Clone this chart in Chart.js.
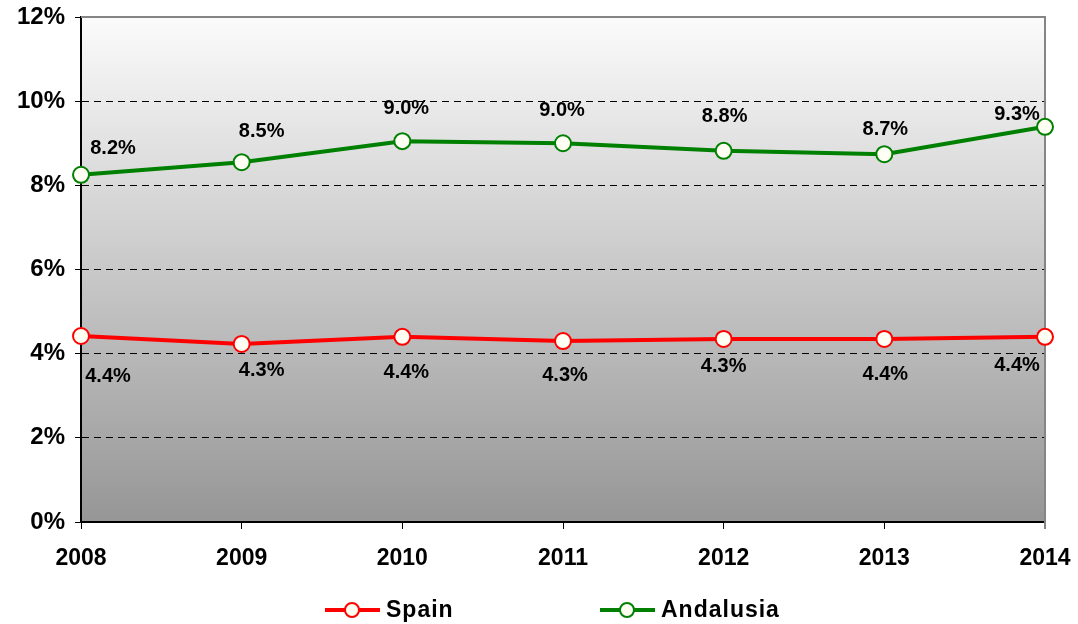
<!DOCTYPE html>
<html>
<head>
	<meta charset="utf-8">
	<title>Spain / Andalusia</title>
	<script src="https://cdn.jsdelivr.net/npm/chart.js"></script>
	<style>
		body { margin: 0; background: #ffffff; }
		#wrap { width: 1078px; height: 624px; }
	</style>
</head>
<body>
<div id="wrap"><canvas id="rateChart" width="1078" height="624"></canvas></div>
<script>
// Values (percent)
const years = ["2008", "2009", "2010", "2011", "2012", "2013", "2014"];
const spain = [4.42, 4.23, 4.40, 4.30, 4.35, 4.35, 4.40];
const andalusia = [8.25, 8.55, 9.05, 9.00, 8.82, 8.74, 9.39];
const spainLabels = ["4.4%", "4.3%", "4.4%", "4.3%", "4.3%", "4.4%", "4.4%"];
const andalusiaLabels = ["8.2%", "8.5%", "9.0%", "9.0%", "8.8%", "8.7%", "9.3%"];
const yTicks = [0, 2, 4, 6, 8, 10, 12];

const FONT = "'Liberation Sans', Arial, sans-serif";

// where each value label sits relative to its point (style only)
const labelOffsets = [
	[[27, 40], [20, 26], [4, 36], [2, 34], [0, 28], [1, 36], [-28, 29]],
	[[32, -26], [20, -31], [4, -33], [-1, -33], [1, -34], [1, -25], [-28, -12]]
];

// gradient backdrop and the grey frame of the plot area
const plotBack = {
	id: "plotBack",
	beforeDraw(chart) {
		const a = chart.chartArea, c = chart.ctx;
		let g = c.createLinearGradient(0, a.top, 0, a.bottom);
		g.addColorStop(0, "#fbfbfb");
		g.addColorStop(1, "#969696");
		c.save();
		c.fillStyle = g;
		c.fillRect(a.left, a.top, a.right - a.left, a.bottom - a.top);
		c.restore();
	},
	beforeDatasetsDraw(chart) {
		const a = chart.chartArea, c = chart.ctx;
		c.save();
		c.strokeStyle = "#858585";
		c.lineWidth = 2;
		c.beginPath();
		c.moveTo(a.left, a.top);
		c.lineTo(a.right, a.top);
		c.lineTo(a.right, a.bottom + 7);
		c.stroke();
		c.restore();
	}
};

const valueLabels = {
	id: "valueLabels",
	afterDatasetsDraw(chart) {
		const c = chart.ctx;
		const texts = [spainLabels, andalusiaLabels];
		c.save();
		c.font = "bold 20px " + FONT;
		c.fillStyle = "#000000";
		c.textAlign = "center";
		c.textBaseline = "middle";
		chart.data.datasets.forEach((ds, d) => {
			chart.getDatasetMeta(d).data.forEach((pt, i) => {
				let o = labelOffsets[d][i];
				c.fillText(texts[d][i], pt.x + o[0], pt.y + o[1]);
			});
		});
		c.restore();
	}
};

// legend drawn as line + marker, like the original
const lineLegend = {
	id: "lineLegend",
	afterDraw(chart) {
		const c = chart.ctx;
		const xs = [325, 600];
		const y = 610;
		c.save();
		c.font = "bold 23px " + FONT;
		c.letterSpacing = "1px";
		c.textBaseline = "middle";
		chart.data.datasets.forEach((ds, d) => {
			let x = xs[d];
			c.strokeStyle = ds.borderColor;
			c.lineWidth = 4;
			c.beginPath();
			c.moveTo(x, y);
			c.lineTo(x + 55, y);
			c.stroke();
			c.fillStyle = ds.pointBackgroundColor;
			c.lineWidth = 2;
			c.beginPath();
			c.arc(x + 27, y, 7, 0, Math.PI * 2);
			c.fill();
			c.stroke();
			c.fillStyle = "#000000";
			c.fillText(ds.label, x + 61, y + 1);
		});
		c.restore();
	}
};

const ctx = document.getElementById("rateChart");
new Chart(ctx, {
	type: "line",
	data: {
		labels: years,
		datasets: [
			{
				label: "Spain",
				data: spain,
				borderColor: "#ff0000",
				borderWidth: 4,
				pointRadius: 8,
				pointBorderWidth: 2,
				pointBackgroundColor: "#fffff4",
				pointBorderColor: "#ff0000",
				tension: 0,
				clip: false
			},
			{
				label: "Andalusia",
				data: andalusia,
				borderColor: "#008000",
				borderWidth: 4,
				pointRadius: 8,
				pointBorderWidth: 2,
				pointBackgroundColor: "#fffff4",
				pointBorderColor: "#008000",
				tension: 0,
				clip: false
			}
		]
	},
	options: {
		responsive: false,
		animation: false,
		layout: { padding: { left: 0, right: 33, top: 17, bottom: 0 } },
		plugins: {
			legend: { display: false },
			tooltip: { enabled: false }
		},
		scales: {
			x: {
				offset: false,
				afterFit(scale) {
					scale.height = 102;
					scale.paddingLeft = 0;
					scale.paddingRight = 0;
				},
				grid: {
					drawOnChartArea: false,
					drawTicks: true,
					tickLength: 7,
					tickColor: "#000000"
				},
				border: { color: "#000000", width: 2 },
				ticks: {
					color: "#000000",
					padding: 18,
					maxRotation: 0,
					font: { family: FONT, size: 23, weight: "bold", lineHeight: 1 }
				}
			},
			y: {
				min: 0,
				max: 12,
				afterFit(scale) {
					scale.width = 81;
					scale.paddingTop = 0;
					scale.paddingBottom = 0;
				},
				afterBuildTicks(scale) {
					scale.ticks = yTicks.map(v => ({ value: v }));
				},
				grid: {
					color: (c) => (c.tick && (c.tick.value == 0 || c.tick.value == 12)) ? "rgba(0,0,0,0)" : "#000000",
					lineWidth: 1,
					tickLength: 6,
					tickColor: "#000000",
					tickBorderDash: []
				},
				border: { color: "#000000", width: 2, dash: [7, 5] },
				ticks: {
					color: "#000000",
					padding: 10,
					font: { family: FONT, size: 24, weight: "bold", lineHeight: 1 },
					callback: (v) => v + "%"
				}
			}
		}
	},
	plugins: [plotBack, valueLabels, lineLegend]
});
</script>
</body>
</html>
